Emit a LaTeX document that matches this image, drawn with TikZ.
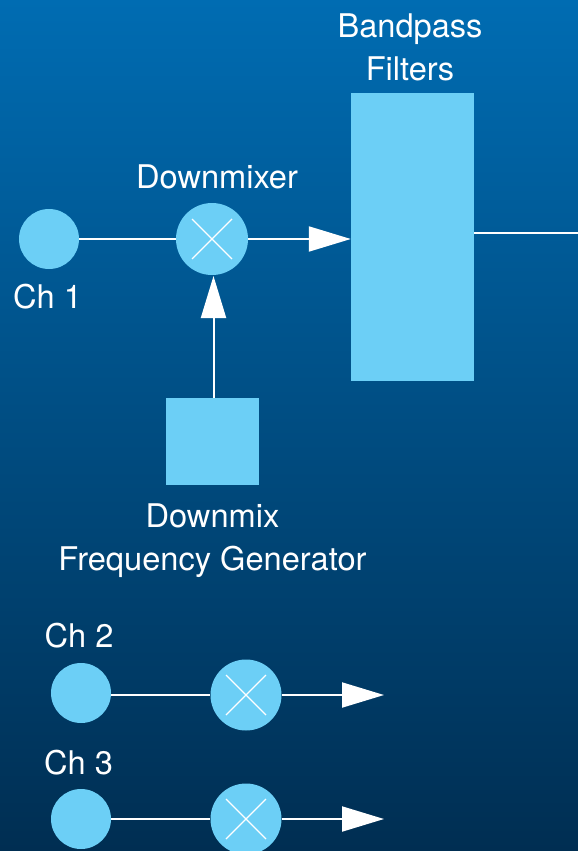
\documentclass[tikz,border=0pt]{standalone}
\usepackage{fontspec}
\setmainfont{TeX Gyre Heros}
\usetikzlibrary{arrows.meta}
\definecolor{topc}{RGB}{0,108,178}
\definecolor{botc}{RGB}{0,46,82}
\definecolor{fillc}{RGB}{108,207,246}
\tikzset{x=1pt,y=-1pt,
 lbl/.style={text=white,font=\fontsize{32.6}{43}\selectfont,inner sep=0pt,align=center},
 dot/.style={circle,fill=fillc,draw=none,inner sep=0pt},
 blk/.style={fill=fillc,draw=none,inner sep=0pt,rectangle},
 wire/.style={draw=white,line width=2pt},
 arr/.style={wire,-{Triangle[length=42pt,width=25pt,fill=white]}}
}
\newcommand{\xmark}[1]{\draw[white,line width=1.2pt] (#1)+(-20,-20) -- +(20,20) (#1)+(-20,20) -- +(20,-20);}
\begin{document}
\begin{tikzpicture}
\useasboundingbox (0,0) rectangle (578,851);
\shade[top color=topc,bottom color=botc] (0,0) rectangle (578,851);
\node[dot,minimum size=60pt] (ch1) at (49,239) {};
\node[dot,minimum size=72pt] (m1) at (212,239) {};
\node[blk,minimum width=123pt,minimum height=288pt] (bp) at (412.5,237) {};
\node[blk,minimum width=93pt,minimum height=87pt] (gen) at (212.5,441.5) {};
\coordinate (out) at (578,233);
\coordinate (bpout) at (474,233);
\coordinate (m1b) at (213.5,276);
\draw[wire] (ch1) -- (m1);
\draw[arr] (m1) -- (bp.west |- m1);
\draw[wire] (bpout) -- (out);
\draw[arr] (gen.north -| m1b) -- (m1b);
\xmark{m1}
\node[dot,minimum size=60pt] (ch2) at (81,693) {};
\node[dot,minimum size=71pt] (m2) at (246,695) {};
\coordinate (e2) at (384,695);
\draw[wire] (ch2.east |- m2) -- (m2);
\draw[arr] (m2) -- (e2);
\xmark{m2}
\node[dot,minimum size=60pt] (ch3) at (81,819) {};
\node[dot,minimum size=71pt] (m3) at (246,819) {};
\coordinate (e3) at (384,819);
\draw[wire] (ch3) -- (m3);
\draw[arr] (m3) -- (e3);
\xmark{m3}
\node[lbl] (t1) at (410,47.5) {Bandpass\\Filters};
\node[lbl] (t2) at (217,177) {Downmixer};
\node[lbl] (t3) at (47.5,297) {Ch 1};
\node[lbl] (t4) at (212.5,541) {Downmix\\Frequency Generator};
\node[lbl] (t5) at (79,636) {Ch 2};
\node[lbl] (t6) at (78.5,763) {Ch 3};
\end{tikzpicture}
\end{document}
